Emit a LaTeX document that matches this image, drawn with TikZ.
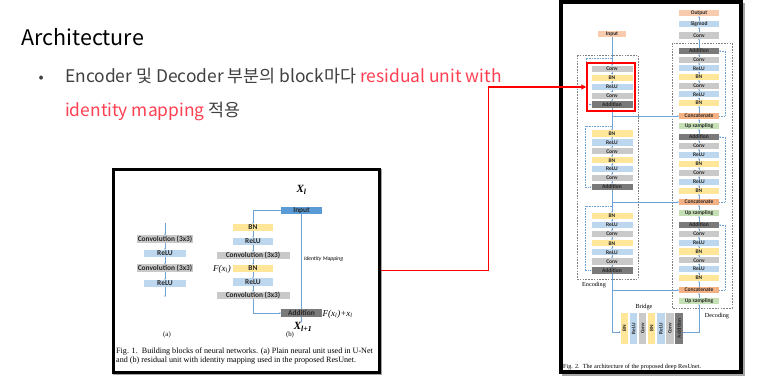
\documentclass[tikz,border=0pt]{standalone}
\usepackage{fontspec}
\usetikzlibrary{arrows.meta,calc}
\newfontfamily\krfont{Noto Sans CJK KR}
\newfontfamily\boxfont{Carlito}
\newfontfamily\serfont{Liberation Serif}
\definecolor{cgray}{HTML}{C9C9C9}
\definecolor{cyel}{HTML}{FFE699}
\definecolor{cblu}{HTML}{BDD7EE}
\definecolor{cdark}{HTML}{7A7A7A}
\definecolor{corg}{HTML}{F8CBAD}
\definecolor{ccat}{HTML}{F4B183}
\definecolor{cgrn}{HTML}{C5E0B4}
\definecolor{cinp}{HTML}{5B9BD5}
\definecolor{cline}{HTML}{6FA3D8}
\definecolor{ctxt}{HTML}{404040}
\definecolor{cred}{HTML}{FF4052}
\definecolor{cboxt}{HTML}{262626}
\tikzset{
  bx/.style={inner sep=0pt, outer sep=0pt, minimum height=6.2pt, minimum width=40pt, text=cboxt, font=\boxfont\bfseries\fontsize{5.5}{6}\selectfont},
  bconv/.style={bx, fill=cgray},
  bbn/.style={bx, fill=cyel},
  brelu/.style={bx, fill=cblu},
  badd/.style={bx, fill=cdark},
  bio/.style={bx, fill=corg},
  bcat/.style={bx, fill=ccat},
  bup/.style={bx, fill=cgrn},
  vbx/.style={inner sep=0pt, outer sep=0pt, minimum width=7.5pt, minimum height=31pt, text=cboxt, font=\boxfont\bfseries\fontsize{5.3}{6}\selectfont},
  lb/.style={inner sep=0pt, outer sep=0pt, minimum height=7.2pt, text=cboxt, font=\boxfont\bfseries\fontsize{7.4}{8}\selectfont},
  sarr/.style={draw=cline, line width=0.45pt, -{Stealth[length=1.6pt,width=1.6pt]}},
  dotarr/.style={draw=cline, line width=0.45pt, dash pattern=on 0.8pt off 0.8pt, -{Stealth[length=1.6pt,width=1.6pt]}},
  gdash/.style={draw=gray, line width=0.5pt, dash pattern=on 1.6pt off 1.2pt},
  figbox/.style={draw=black, line width=3pt, inner sep=0pt},
  shadowbox/.style={draw=black!35, line width=3pt},
  captxt/.style={font=\serfont\fontsize{8.1}{9}\selectfont, inner sep=0pt, anchor=base west},
  scap/.style={font=\serfont\fontsize{6.2}{7}\selectfont, inner sep=0pt},
  redarr/.style={draw=red, line width=1.8pt, -{Triangle[length=5pt,width=5pt]}}
}
\begin{document}
\begin{tikzpicture}[x=1pt,y=-1pt]
\useasboundingbox (0,0) rectangle (774,378);
\fill[white] (0,0) rectangle (774,378);

% ---------- slide text ----------
\node[anchor=base west, inner sep=0pt, font=\krfont\fontsize{21.5}{24}\selectfont] (title) at (21,45.5) {Architecture};
\node[anchor=base west, inner sep=0pt, text=ctxt, font=\krfont\fontsize{15}{18}\selectfont] (bul) at (38.5,82) {•};
\node[anchor=base west, inner sep=0pt, text=ctxt, font=\krfont\fontsize{17.4}{20}\selectfont] (l1) at (65,82) {Encoder 및 Decoder 부분의 block마다 \textcolor{cred}{residual unit with}};
\node[anchor=base west, inner sep=0pt, text=ctxt, font=\krfont\fontsize{17.4}{20}\selectfont] (l2) at (65,116.5) {\textcolor{cred}{identity mapping} 적용};

% ---------- Fig. 1 ----------
\draw[shadowbox] (114.5,170.5) rectangle (380.5,373.5);
\node[figbox, fill=white, minimum width=266pt, minimum height=203pt] (fig1) at (246,270.5) {};

% (a)
\node[lb, fill=cgray, minimum width=56pt] (a1) at (165,239) {Convolution (3x3)};
\node[lb, fill=cblu, minimum width=42pt] (a2) at (165,253.5) {ReLU};
\node[lb, fill=cgray, minimum width=56pt] (a3) at (165,268) {Convolution (3x3)};
\node[lb, fill=cblu, minimum width=42pt] (a4) at (165,283.5) {ReLU};
\coordinate (atop) at (165,223);
\coordinate (abot) at (165,297);
\draw[sarr] (atop) -- (a1);
\draw[sarr] (a1) -- (a2);
\draw[sarr] (a2) -- (a3);
\draw[sarr] (a3) -- (a4);
\draw[sarr] (a4) -- (abot);
\node[font=\serfont\fontsize{6.8}{7}\selectfont, inner sep=0pt] (la) at (167,335) {(a)};

% (b)
\node[font=\serfont\bfseries\itshape\fontsize{11}{12}\selectfont, inner sep=0pt] (xl) at (301.5,190) {X\textsubscript{l}};
\node[lb, fill=cinp, minimum width=41pt] (inb) at (301.5,210.5) {Input};
\node[lb, fill=cyel, minimum width=40pt] (b1) at (253,227.5) {BN};
\node[lb, fill=cblu, minimum width=40pt] (b2) at (253,241.5) {ReLU};
\node[lb, fill=cgray, minimum width=73pt] (b3) at (253,255.5) {Convolution (3x3)};
\node[lb, fill=cyel, minimum width=40pt] (b4) at (253,268.5) {BN};
\node[lb, fill=cblu, minimum width=40pt] (b5) at (253,282) {ReLU};
\node[lb, fill=cgray, minimum width=73pt] (b6) at (253,295.5) {Convolution (3x3)};
\node[lb, fill=cdark, minimum width=41pt] (addb) at (301.5,313) {Addition};
\draw[sarr] (inb.west) -| (b1.north);
\draw[sarr] (b1) -- (b2);
\draw[sarr] (b2) -- (b3);
\draw[sarr] (b3) -- (b4);
\draw[sarr] (b4) -- (b5);
\draw[sarr] (b5) -- (b6);
\draw[sarr] (b6.south) |- (addb.west);
\draw[sarr] (inb.south) -- (addb.north);
\node[anchor=east, inner sep=0pt, font=\serfont\itshape\fontsize{9}{10}\selectfont] (fx) at (231,269.5) {F(x\textsubscript{l})};
\node[anchor=west, inner sep=0pt, font=\boxfont\itshape\fontsize{5.6}{6}\selectfont] (idm) at (304,259) {Identity Mapping};
\node[anchor=west, inner sep=0pt, font=\serfont\itshape\fontsize{9}{10}\selectfont] (fxx) at (322.5,314.5) {F(x\textsubscript{l})+x\textsubscript{l}};
\node[font=\serfont\bfseries\itshape\fontsize{11}{12}\selectfont, inner sep=0pt] (xl1) at (303,327) {X\textsubscript{l+1}};
\draw[sarr] (addb.south) -- (xl1.north -| addb.south);
\node[font=\serfont\fontsize{6.8}{7}\selectfont, inner sep=0pt] (lbb) at (290,335) {(b)};
\node[captxt] (cap1a) at (116,353) {Fig. 1.\ \ Building blocks of neural networks. (a) Plain neural unit used in U-Net};
\node[captxt] (cap1b) at (116,362.5) {and (b) residual unit with identity mapping used in the proposed ResUnet.};

% ---------- Fig. 2 ----------
\draw[shadowbox] (563,4) rectangle (743,374);
\node[figbox, fill=white, line width=3.5pt, minimum width=180pt, minimum height=370pt] (fig2) at (651,187) {};

\draw[gdash] (577,55) rectangle (638,279);
\draw[gdash] (672,43) rectangle (732,308);
\node[scap] (enc) at (594,285) {Encoding};
\node[scap] (bri) at (644,307) {Bridge};
\node[scap] (dec) at (717,316) {Decoding};

% encoder
\node[bio, minimum width=28pt] (inp) at (612,34) {Input};
\foreach \i/\t/\s in {1/Conv/bconv,2/BN/bbn,3/ReLU/brelu,4/Conv/bconv,5/Addition/badd}{
  \node[\s, minimum width=41pt] (e1\i) at (612,{69+(\i-1)*8.875}) {\t};
}
\foreach \k/\y/\d in {2/133.5/8.92,3/216/9.08}{
  \foreach \i/\t/\s in {1/BN/bbn,2/ReLU/brelu,3/Conv/bconv,4/BN/bbn,5/ReLU/brelu,6/Conv/bconv,7/Addition/badd}{
    \node[\s, minimum width=41pt] (e\k\i) at (612,{\y+(\i-1)*\d}) {\t};
  }
}
\draw[sarr] (inp) -- (e11);
\foreach \i in {1,...,4}{\pgfmathtruncatemacro\j{\i+1}\draw[sarr] (e1\i) -- (e1\j);}
\foreach \k in {2,3}{\foreach \i in {1,...,6}{\pgfmathtruncatemacro\j{\i+1}\draw[sarr] (e\k\i) -- (e\k\j);}}
\draw[sarr] (e15) -- (e21);
\draw[sarr] (e27) -- (e31);
% encoder skips
\draw[dotarr] ($(inp.south)!0.73!(e11.north)$) -- ++(-26,0) |- (e15.west);
\draw[dotarr] ($(e15.south)!0.8!(e21.north)$) -- ++(-27,0) |- (e27.west);
\draw[dotarr] ($(e27.south)!0.7!(e31.north)$) -- ++(-27,0) |- (e37.west);

% bridge
\foreach \i/\t/\c in {1/BN/cyel,2/ReLU/cblu,3/Conv/cgray,4/BN/cyel,5/ReLU/cblu,6/Conv/cgray,7/Addition/cdark}{
  \node[vbx, fill=\c] (br\i) at ({624.5+(\i-1)*9.08},328.5) {\rotatebox{90}{\t}};
}

% decoder
\node[bio] (dout) at (699,13) {Output};
\node[brelu] (dsig) at (699,24) {Sigmod};
\node[bconv] (dtc) at (699,35.5) {Conv};
\foreach \k/\y/\d/\cy/\uy in {1/51/8.67/116/126,2/137/9/202/213,3/225/8.83/290/301}{
  \foreach \i/\t/\s in {1/Addition/badd,2/Conv/bconv,3/ReLU/brelu,4/BN/bbn,5/Conv/bconv,6/ReLU/brelu,7/BN/bbn}{
    \node[\s] (d\k\i) at (699,{\y+(\i-1)*\d}) {\t};
  }
  \node[bcat] (dc\k) at (699,\cy) {Concatenate};
  \node[bup] (du\k) at (699,\uy) {Up sampling};
}
\draw[sarr] (dtc) -- (dsig);
\draw[sarr] (dsig) -- (dout);
\draw[sarr] (d11) -- (dtc);
\draw[sarr] (d21) -- (du1);
\draw[sarr] (d31) -- (du2);
\foreach \k in {1,2,3}{
  \foreach \i in {1,...,6}{\pgfmathtruncatemacro\j{\i+1}\draw[sarr] (d\k\j) -- (d\k\i);}
  \draw[sarr] (dc\k) -- (d\k7);
  \draw[sarr] (du\k) -- (dc\k);
  \draw[dotarr] (dc\k.east) -- ++(6,0) |- (d\k1.east);
}

% encoder -> decoder links
\draw[sarr] (e15.south |- dc1.west) -- (dc1.west);
\draw[sarr] (e27.south |- dc2.west) -- (dc2.west);
\draw[sarr] (e37.south) |- ([yshift=-3.5pt]br1.west);
\draw[sarr] (e37.south |- dc3.west) -- (dc3.west);
\draw[sarr] ([yshift=-3.5pt]br7.east) -| (du3.south);

% red highlight and connector
\node[draw=red, line width=1.5pt, minimum width=48pt, minimum height=48pt, inner sep=0pt] (hl) at (611,87) {};
\draw[redarr] (fig1.east) -- ++(108,0) |- (hl.west);

\node[scap, anchor=base west] (cap2) at (563,368.5) {Fig. 2.\ \ The architecture of the proposed deep ResUnet.};
\end{tikzpicture}
\end{document}
